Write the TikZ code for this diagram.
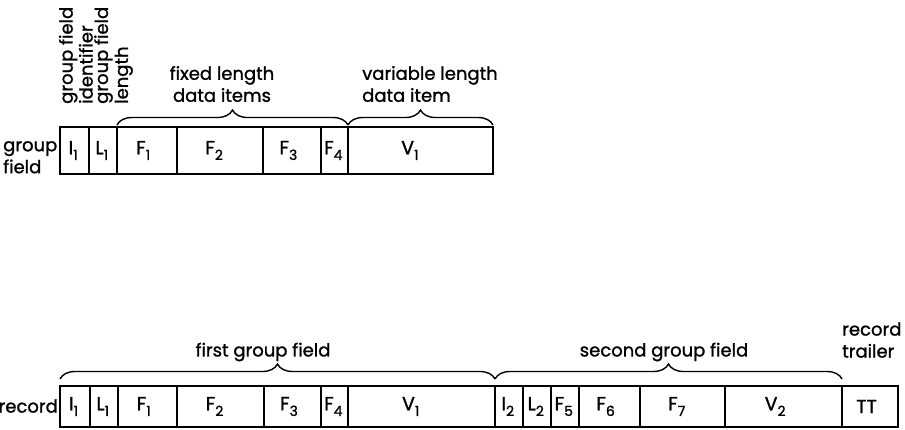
\documentclass[tikz,border=0pt]{standalone}
\usepackage{fontspec}
\setmainfont{Poppins}[FakeBold=1.2]
\usetikzlibrary{decorations.pathreplacing}
\newcommand\subidx[1]{\raisebox{-0.55ex}{\fontsize{14}{14}\selectfont #1}}
\tikzset{
  box/.style={draw, line width=1.6pt, inner sep=0pt, outer sep=0pt},
  boxtxt/.style={inner sep=0pt, font=\fontsize{19}{19}\selectfont},
  lbl/.style={inner sep=0pt, font=\fontsize{18}{22}\selectfont},
  rlbl/.style={inner sep=0pt, font=\fontsize{18}{20}\selectfont, align=left, rotate=90, anchor=south west},
  brc/.style={draw, line width=1.4pt, decoration={brace, amplitude=15pt}, decorate},
}
\begin{document}
\begin{tikzpicture}[x=1pt,y=-1pt]
\useasboundingbox (0,0) rectangle (905,429);
% top row
\foreach \n/\a/\b/\t in {tI/60/89/I\subidx{1}, tL/89/117/L\subidx{1}, tF1/117/177/F\subidx{1}, tF2/177/263/F\subidx{2}, tF3/263/321/F\subidx{3}, tF4/321/348/F\subidx{4}, tV/348/493/V\subidx{1}}
  {\node[box, minimum width={(\b-\a)*1pt}, minimum height=47pt] (\n) at ({(\a+\b)/2},150.5) {};
   \node[boxtxt] (\n-t) at ([xshift={-0.08*(\b-\a)*1pt+1pt}]\n.center) {\t};}
% bottom row
\foreach \n/\a/\b/\t in {bI1/60/90/I\subidx{1}, bL1/90/118/L\subidx{1}, bF1/118/177/F\subidx{1}, bF2/177/264/F\subidx{2}, bF3/264/321/F\subidx{3}, bF4/321/348/F\subidx{4}, bV1/348/495/V\subidx{1}, bI2/495/523/I\subidx{2}, bL2/523/551/L\subidx{2}, bF5/551/579/F\subidx{5}, bF6/579/640/F\subidx{6}, bF7/640/725/F\subidx{7}, bV2/725/842/V\subidx{2}, bTT/842/898/TT}
  {\node[box, minimum width={(\b-\a)*1pt}, minimum height=41pt] (\n) at ({(\a+\b)/2},406.5) {};
   \node[boxtxt] (\n-t) at ([xshift={-0.08*(\b-\a)*1pt+1pt}]\n.center) {\t};}
% labels
\node[lbl, align=left, anchor=north west] (gf) at (3,141) {group\\field};
\node[lbl, anchor=east] (rec) at (58,406) {record};
\node[rlbl] (gfi) at (93,104) {group field\\identifier};
\node[rlbl] (gfl) at (133,104) {group field\\length};
% braces
\draw[brc] ([yshift=2pt]tF1.north west) -- ([yshift=2pt]tF4.north east);
\draw[brc] ([yshift=2pt]tV.north west) -- ([yshift=2pt]tV.north east);
\draw[brc] ([yshift=7pt]bI1.north west) -- ([yshift=7pt]bV1.north east);
\draw[brc] ([yshift=7pt]bI2.north west) -- ([yshift=7pt]bV2.north east);
\node[lbl, align=center] (fl) at (222,84) {fixed length\\data items};
\node[lbl, align=left, anchor=west] (vl) at (362,84) {variable length\\data item};
\node[lbl] (fg) at (263,352) {first group field};
\node[lbl] (sg) at (664,352) {second group field};
\node[lbl, align=left, anchor=west] (rt) at (842,340) {record\\trailer};
\end{tikzpicture}
\end{document}
